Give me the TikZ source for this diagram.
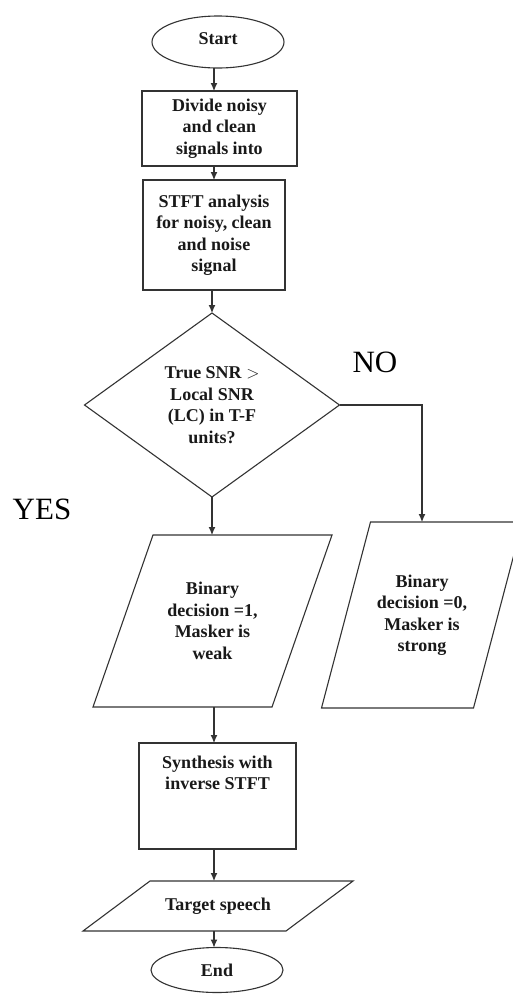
\documentclass[tikz,border=0pt]{standalone}
\usepackage{fontspec}
\setmainfont{Liberation Serif}
\usetikzlibrary{shapes.geometric,arrows.meta,calc}
\begin{document}
\begin{tikzpicture}[x=1pt,y=-1pt,
  line/.style={draw=black!80, line width=1.1pt},
  arr/.style={draw=black!80, line width=1.1pt, -{Latex[length=8pt,width=7pt]}},
  boxtext/.style={font=\bfseries\fontsize{18}{21.5}\selectfont, text=black!90, align=center, inner sep=0pt},
  procbox/.style={boxtext, line, rectangle, outer sep=0pt},
  term/.style={boxtext, line, ellipse, outer sep=0pt},
  frame/.style={boxtext, rectangle, outer sep=0pt},
  big/.style={font=\fontsize{31}{36}\selectfont, inner sep=0pt, text=black},
]
\useasboundingbox (0,0) rectangle (513,994);
\fill[white] (0,0) rectangle (513,994);
\coordinate (col) at (214,0);

% terminals and process boxes
\node[term, minimum width=132pt, minimum height=52pt] (start) at (218,42) {\raisebox{6pt}{Start}};
\node[procbox, minimum width=155pt, minimum height=75pt] (b1) at (219.5,128.5) {Divide noisy\\and clean\\signals into};
\node[procbox, minimum width=142pt, minimum height=110pt] (b2) at (214,235) {STFT analysis\\for noisy, clean\\and noise\\signal};

% decision
\node[frame, minimum width=255pt, minimum height=184pt] (d) at (212,405) {True SNR $>$\\Local SNR\\(LC) in T-F\\units?};
\draw[line] (d.north) -- (d.east) -- (d.south) -- (d.west) -- cycle;

% parallelograms
\node[frame, minimum width=239pt, minimum height=172pt] (p1) at (212.5,621) {Binary\\decision =1,\\Masker is\\weak};
\draw[line] ($(p1.north west)+(60,0)$) -- (p1.north east) -- ($(p1.south east)-(60,0)$) -- (p1.south west) -- cycle;

\node[frame, minimum width=201pt, minimum height=186pt] (p2) at (422,615) {Binary\\decision =0,\\Masker is\\strong};
\draw[line] ($(p2.north west)+(49,0)$) -- (p2.north east) -- ($(p2.south east)-(49,0)$) -- (p2.south west) -- cycle;

\node[procbox, minimum width=157pt, minimum height=106pt] (b3) at (217.5,796) {};
\node[boxtext] (b3t) at (217.5,773) {Synthesis with\\inverse STFT};

\node[frame, minimum width=270pt, minimum height=50pt] (tg) at (218,906) {Target speech};
\draw[line] ($(tg.north west)+(67,0)$) -- (tg.north east) -- ($(tg.south east)-(67,0)$) -- (tg.south west) -- cycle;

\node[term, minimum width=132pt, minimum height=45pt] (en) at (217,970) {End};

% labels
\node[big] (yes) at (42,509) {YES};
\node[big] (no) at (375,362) {NO};

% connectors
\draw[arr] (start.south -| col) -- (b1.north -| col);
\draw[arr] (b1.south -| col) -- (b2.north -| col);
\draw[arr] (b2.south -| d.north) -- (d.north);
\draw[arr] (d.south) -- (d.south |- p1.north);
\draw[arr] (d.east) -| (p2.north);
\draw[arr] (p1.south -| col) -- (b3.north -| col);
\draw[arr] (b3.south -| col) -- (tg.north -| col);
\draw[arr] (tg.south -| col) -- (en.north -| col);
\end{tikzpicture}
\end{document}
